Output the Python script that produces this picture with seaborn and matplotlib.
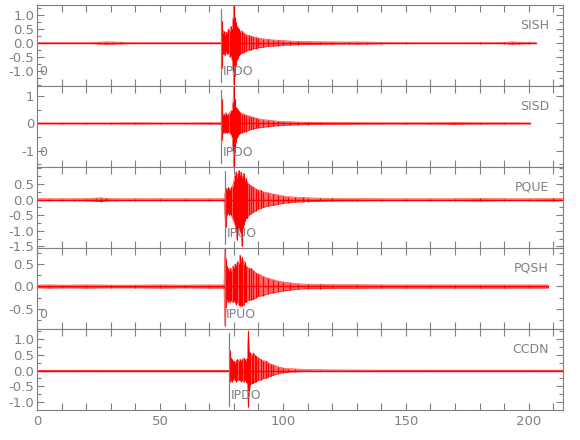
import numpy as np
import seaborn as sns
import matplotlib.pyplot as plt
from matplotlib.ticker import MultipleLocator, FixedLocator

# station names and phase picks
stations = ['SISH', 'SISD', 'PQUE', 'PQSH', 'CCDN']
pick_names = ['IPDO', 'IPDO', 'IPUO', 'IPUO', 'IPDO']
pick_times = [75.0, 75.0, 76.6, 76.3, 78.2]

# waveform envelopes (time in s, upper / lower amplitude)
sish_t = [0, 10, 20, 25, 28, 31, 34, 38, 45, 55, 65, 74, 74.9, 75.2, 75.5, 75.9, 76.3, 76.8, 77.3, 77.8,
          78.3, 78.8, 79.3, 79.7, 80.0, 80.4, 80.8, 81.2, 81.7, 82.2, 82.7, 83.3, 84, 85, 86, 87, 88, 89, 90, 92,
          94, 96, 98, 100, 103, 106, 110, 115, 120, 127, 130, 134, 140, 150, 160, 170, 180, 190, 193, 196, 200, 203]
sish_up = [.01, .01, .015, .03, .04, .035, .03, .015, .01, .01, .01, .01, .02, .78, .35, .45, .3, .4, .35, .5,
           .45, .6, .5, .9, 1.4, .95, .75, .6, .55, .5, .4, .45, .35, .3, .28, .25, .22, .2, .18, .15,
           .13, .11, .1, .09, .07, .06, .05, .045, .04, .035, .04, .035, .025, .02, .015, .015, .02, .02, .04, .03,
           .02, .01]
sish_lo = [-.01, -.01, -.015, -.03, -.04, -.035, -.03, -.015, -.01, -.01, -.01, -.01, -.02, -.9, -.4, -.35, -.45, -.3, -.4, -.35,
           -.5, -.45, -.6, -1.0, -1.5, -1.2, -.8, -.6, -.55, -.45, -.4, -.35, -.35, -.3, -.25, -.25, -.2, -.2, -.17, -.15,
           -.12, -.11, -.1, -.08, -.07, -.06, -.05, -.045, -.04, -.035, -.04, -.035, -.025, -.02, -.015, -.015, -.02, -.02, -.04, -.03,
           -.02, -.01]

sisd_t = [0, 10, 20, 30, 40, 50, 60, 70, 74, 74.9, 75.2, 75.5, 75.9, 76.3, 76.8, 77.3, 77.8, 78.3, 78.8, 79.3,
          79.7, 80.0, 80.4, 80.8, 81.2, 81.7, 82.2, 82.7, 83.3, 84, 85, 86, 87, 88, 89, 90, 92, 94, 96, 98,
          100, 103, 106, 110, 115, 120, 130, 140, 150, 160, 170, 180, 190, 200.5]
sisd_up = [.015, .015, .015, .015, .02, .015, .015, .02, .02, .03, .9, .3, .35, .3, .4, .3, .35, .4, .45, .5,
           .8, 1.38, .9, .6, .55, .5, .45, .4, .35, .35, .3, .28, .25, .22, .2, .17, .14, .12, .1, .08,
           .07, .06, .05, .04, .035, .03, .025, .02, .02, .02, .03, .02, .02, .015]
sisd_lo = [-.015, -.015, -.015, -.015, -.02, -.015, -.015, -.02, -.02, -.03, -.6, -.35, -.3, -.35, -.3, -.35, -.3, -.35, -.4, -.5,
           -1.0, -1.6, -1.1, -.7, -.55, -.45, -.4, -.35, -.35, -.3, -.3, -.25, -.22, -.2, -.18, -.16, -.14, -.12, -.1, -.08,
           -.07, -.06, -.05, -.04, -.035, -.03, -.025, -.02, -.02, -.02, -.03, -.02, -.02, -.015]

pque_t = [0, 5, 10, 15, 20, 24, 26, 28, 32, 40, 50, 60, 70, 76, 76.7, 77.0, 77.4, 77.8, 78.2, 78.6,
          79, 79.5, 80, 80.5, 81, 81.3, 81.7, 82, 82.5, 83, 83.3, 83.7, 84, 84.5, 85, 85.5, 86, 87, 88, 89,
          90, 91, 92, 94, 96, 98, 100, 102, 105, 108, 110, 115, 120, 130, 140, 150, 160, 170, 180, 190,
          200, 210, 214]
pque_up = [.03, .03, .03, .03, .035, .05, .06, .04, .03, .03, .03, .03, .03, .03, .3, .36, .3, .4, .35, .3,
           .4, .45, .6, .8, .9, .7, .85, .94, .8, .9, .7, .75, .85, .6, .7, .55, .5, .45, .4, .35,
           .3, .3, .25, .22, .18, .15, .12, .1, .08, .07, .06, .05, .04, .035, .03, .03, .03, .03, .04, .03,
           .03, .04, .03]
pque_lo = [-.03, -.03, -.03, -.03, -.035, -.05, -.06, -.04, -.03, -.03, -.03, -.03, -.03, -.03, -.87, -.45, -.5, -.4, -.5, -.45,
           -.5, -.6, -.7, -.8, -1.0, -1.3, -.9, -.9, -1.0, -1.1, -1.5, -.9, -.8, -.7, -.6, -.6, -.5, -.45, -.4, -.35,
           -.3, -.28, -.25, -.2, -.18, -.15, -.12, -.1, -.08, -.07, -.06, -.05, -.04, -.035, -.03, -.03, -.03, -.03, -.04, -.03,
           -.03, -.04, -.03]

pqsh_t = [0, 5, 10, 20, 30, 40, 50, 60, 70, 76, 76.4, 76.8, 77.2, 77.6, 78, 78.5, 79, 79.5, 80, 80.5,
          81, 81.5, 82, 82.5, 83, 83.5, 84, 84.5, 85, 86, 87, 88, 89, 90, 92, 94, 96, 98, 100, 103,
          106, 110, 115, 120, 130, 140, 150, 160, 170, 180, 190, 200, 207.7]
pqsh_up = [.03, .035, .03, .035, .03, .03, .035, .03, .035, .035, .84, .6, .45, .4, .35, .4, .35, .45, .4, .5,
           .45, .55, .5, .7, .55, .65, .5, .55, .45, .4, .4, .35, .3, .28, .22, .18, .15, .12, .1, .08,
           .06, .05, .05, .04, .04, .035, .035, .035, .035, .035, .035, .035, .035]
pqsh_lo = [-.03, -.035, -.03, -.035, -.03, -.03, -.035, -.03, -.035, -.035, -.87, -.45, -.3, -.35, -.3, -.35, -.3, -.35, -.3, -.35,
           -.4, -.35, -.4, -.44, -.4, -.44, -.4, -.35, -.35, -.3, -.3, -.28, -.25, -.22, -.2, -.16, -.14, -.12, -.1, -.08,
           -.06, -.05, -.05, -.04, -.04, -.035, -.035, -.035, -.035, -.035, -.035, -.035, -.035]

ccdn_t = [0, 20, 40, 60, 78.2, 78.4, 78.8, 79.2, 79.6, 80, 80.5, 81, 81.5, 82, 82.5, 83, 83.5, 84, 84.5, 85,
          85.5, 85.9, 86.3, 86.8, 87.3, 88, 88.5, 89, 90, 91, 92, 93, 94, 95, 96, 98, 100, 102, 105, 110,
          115, 120, 130, 140, 160, 180, 200, 214]
ccdn_up = [.005, .005, .005, .005, .005, .63, .4, .35, .3, .3, .25, .3, .35, .3, .35, .3, .35, .4, .35, .3,
           .4, 1.25, .6, .55, .5, .55, .5, .45, .4, .35, .3, .3, .25, .2, .18, .12, .08, .06, .05, .03,
           .025, .02, .015, .01, .01, .01, .01, .01]
ccdn_lo = [-.005, -.005, -.005, -.005, -.005, -.35, -.3, -.35, -.3, -.25, -.3, -.35, -.3, -.3, -.3, -.35, -.3, -.35, -.3, -.35,
           -.4, -1.15, -.6, -.45, -.4, -.4, -.35, -.35, -.3, -.3, -.25, -.25, -.2, -.18, -.15, -.1, -.07, -.05, -.04, -.03,
           -.025, -.02, -.015, -.01, -.01, -.01, -.01, -.01]

traces = [(sish_t, sish_up, sish_lo), (sisd_t, sisd_up, sisd_lo), (pque_t, pque_up, pque_lo),
          (pqsh_t, pqsh_up, pqsh_lo), (ccdn_t, ccdn_up, ccdn_lo)]

# axis ranges and labelled ticks per panel
ylims = [(-1.55, 1.38), (-1.6, 1.38), (-1.55, 1.05), (-0.94, 0.85), (-1.24, 1.3)]
yticks = [[1, .5, 0, -.5, -1], [1, 0, -1], [.5, 0, -.5, -1, -1.5], [.5, 0, -.5], [1, .5, 0, -.5, -1]]
yminor = [0.25, 0.5, 0.25, 0.25, 0.25]
zero_label = [True, True, False, True, False]

sns.set_style('ticks')
plt.rcParams['font.family'] = ['DejaVu Sans']
plt.rcParams['axes.unicode_minus'] = False
gray = '#808080'

fig = plt.figure(figsize=(5.8, 4.4), dpi=100)
gs = fig.add_gridspec(5, 1, left=0.064, right=0.971, top=0.989, bottom=0.068, hspace=0)

for i, (t, up, lo) in enumerate(traces):
    ax = fig.add_subplot(gs[i])
    t = np.asarray(t, float)
    up = np.asarray(up, float)
    lo = np.asarray(lo, float)
    # shaded envelope, its two edges, spikes at each knot and the zero trace
    ax.fill_between(t, lo, up, color='red', alpha=0.6, lw=0)
    sns.lineplot(x=t, y=up, ax=ax, color='red', lw=0.5, alpha=0.7, estimator=None)
    sns.lineplot(x=t, y=lo, ax=ax, color='red', lw=0.5, alpha=0.7, estimator=None)
    ax.vlines(t, lo, up, color='red', lw=0.8)
    ax.plot([t[0], t[-1]], [0, 0], color='red', lw=1.0)

    ax.axvline(pick_times[i], ymin=0.05, ymax=0.95, color=gray, lw=0.9)
    tr = ax.get_xaxis_transform()
    ax.text(pick_times[i] + 0.6, 0.18, pick_names[i], transform=tr, color=gray,
            fontsize=9, ha='left', va='center')
    if zero_label[i]:
        ax.text(0.8, 0.18, '0', transform=tr, color=gray, fontsize=9, ha='left', va='center')
    ax.text(0.973, 0.75, stations[i], transform=ax.transAxes, color=gray,
            fontsize=9, ha='right', va='center')

    ax.set_xlim(0, 214)
    ax.set_ylim(*ylims[i])
    ax.yaxis.set_major_locator(FixedLocator(yticks[i]))
    ax.yaxis.set_minor_locator(MultipleLocator(yminor[i]))
    ax.xaxis.set_major_locator(MultipleLocator(50))
    ax.xaxis.set_minor_locator(MultipleLocator(10))
    ax.tick_params(axis='both', which='both', direction='in', top=True, right=True,
                   colors=gray, labelsize=9.5, width=0.8)
    ax.tick_params(axis='x', which='both', length=5)
    ax.tick_params(axis='y', which='major', length=5)
    ax.tick_params(axis='y', which='minor', length=3)
    ax.tick_params(axis='y', pad=2)
    for s in ax.spines.values():
        s.set_color(gray)
        s.set_linewidth(0.8)
    ax.set_xlabel('')
    ax.set_ylabel('')
    if i < 4:
        ax.tick_params(axis='x', labelbottom=False)

fig.savefig('out.png', dpi=100)
